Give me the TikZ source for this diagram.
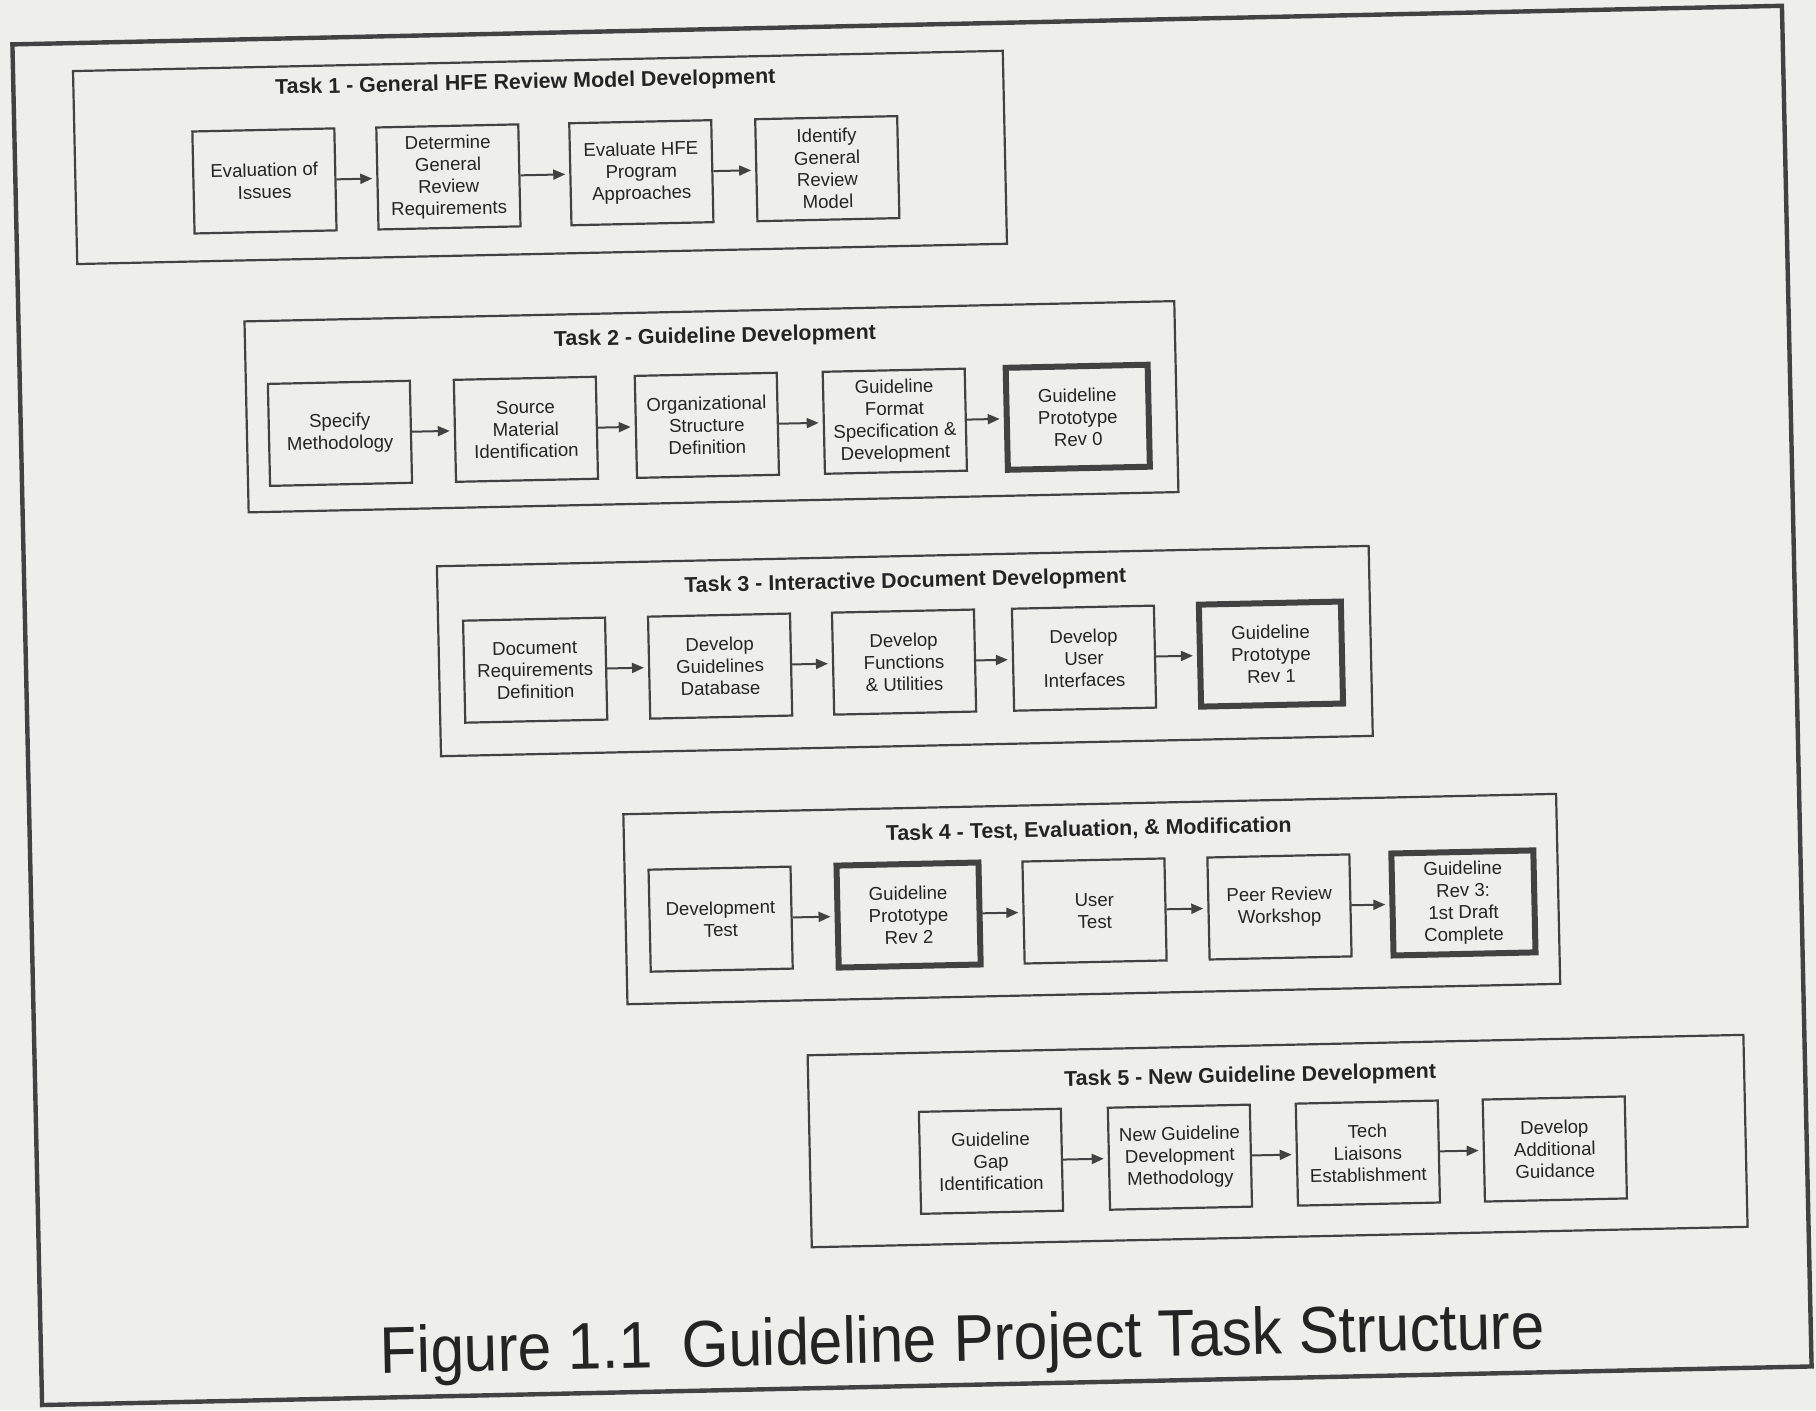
\documentclass[tikz,border=0pt]{standalone}
\usepackage{fontspec}
\setmainfont{Liberation Sans}
\newfontfamily\capfont[FakeStretch=0.915]{Liberation Sans}
\usetikzlibrary{arrows.meta}
\definecolor{paper}{RGB}{238,238,235}
\definecolor{ink}{RGB}{66,66,66}
\definecolor{textink}{RGB}{36,36,36}
\begin{document}
\begin{tikzpicture}[x=0.5pt,y=-0.5pt,
  frame/.style={draw=ink,line width=1.1pt},
  stepbox/.style={draw=ink,line width=1.1pt,minimum width=71pt,minimum height=51pt,
    inner sep=1pt,align=center,font=\fontsize{9.3}{11}\selectfont,text=textink},
  keybox/.style={stepbox,line width=3pt},
  title/.style={font=\bfseries\fontsize{10.7}{12}\selectfont,text=textink},
  arr/.style={draw=ink,line width=1pt,-{Triangle[length=6pt,width=5pt]},shorten >=2pt}]
\fill[paper] (0,0) rectangle (1816,1410);
\useasboundingbox (0,0) rectangle (1816,1410);
\begin{scope}[rotate around={1.25:(908,705)},transform shape]
  % page frame
  \draw[draw=ink,line width=2.2pt] (27,25) rectangle (1797,1386);

  % Task 1
  \draw[frame] (87,53) rectangle (1017,246);
  \node[title] (t1) at (539,75) {Task 1 - General HFE Review Model Development};
  \node[stepbox] (t1a) at (276,167) {Evaluation of\\Issues};
  \node[stepbox] (t1b) at (460,167) {Determine\\General\\Review\\Requirements};
  \node[stepbox] (t1c) at (653,167) {Evaluate HFE\\Program\\Approaches};
  \node[stepbox] (t1d) at (839,167) {Identify\\General\\Review\\Model};
  \draw[arr] (t1a) -- (t1b);
  \draw[arr] (t1b) -- (t1c);
  \draw[arr] (t1c) -- (t1d);

  % Task 2
  \draw[frame] (253,307) rectangle (1183,498);
  \node[title] (t2) at (723,333) {Task 2 - Guideline Development};
  \node[stepbox] (t2a) at (346,421) {Specify\\Methodology};
  \node[stepbox] (t2b) at (532,421) {Source\\Material\\Identification};
  \node[stepbox] (t2c) at (713,421) {Organizational\\Structure\\Definition};
  \node[stepbox] (t2d) at (901,421) {Guideline\\Format\\Specification \&\\Development};
  \node[keybox] (t2e) at (1084,421) {Guideline\\Prototype\\Rev 0};
  \draw[arr] (t2a) -- (t2b);
  \draw[arr] (t2b) -- (t2c);
  \draw[arr] (t2c) -- (t2d);
  \draw[arr] (t2d) -- (t2e);

  % Task 3
  \draw[frame] (440,556) rectangle (1372,746);
  \node[title] (t3) at (908,582) {Task 3 - Interactive Document Development};
  \node[stepbox] (t3a) at (536,662) {Document\\Requirements\\Definition};
  \node[stepbox] (t3b) at (721,662) {Develop\\Guidelines\\Database};
  \node[stepbox] (t3c) at (905,662) {Develop\\Functions\\\& Utilities};
  \node[stepbox] (t3d) at (1085,662) {Develop\\User\\Interfaces};
  \node[keybox] (t3e) at (1272,662) {Guideline\\Prototype\\Rev 1};
  \draw[arr] (t3a) -- (t3b);
  \draw[arr] (t3b) -- (t3c);
  \draw[arr] (t3c) -- (t3d);
  \draw[arr] (t3d) -- (t3e);

  % Task 4
  \draw[frame] (621,808) rectangle (1554,998);
  \node[title] (t4) at (1086,834) {Task 4 - Test, Evaluation, \& Modification};
  \node[stepbox] (t4a) at (716,915) {Development\\Test};
  \node[keybox] (t4b) at (904,915) {Guideline\\Prototype\\Rev 2};
  \node[stepbox] (t4c) at (1090,915) {User\\Test};
  \node[stepbox] (t4d) at (1275,915) {Peer Review\\Workshop};
  \node[keybox] (t4e) at (1459,915) {Guideline\\Rev 3:\\1st Draft\\Complete};
  \draw[arr] (t4a) -- (t4b);
  \draw[arr] (t4b) -- (t4c);
  \draw[arr] (t4c) -- (t4d);
  \draw[arr] (t4d) -- (t4e);

  % Task 5
  \draw[frame] (800,1053) rectangle (1736,1245);
  \node[title] (t5) at (1242,1084) {Task 5 - New Guideline Development};
  \node[stepbox] (t5a) at (981,1163) {Guideline\\Gap\\Identification};
  \node[stepbox] (t5b) at (1170,1163) {New Guideline\\Development\\Methodology};
  \node[stepbox] (t5c) at (1358,1163) {Tech\\Liaisons\\Establishment};
  \node[stepbox] (t5d) at (1545,1163) {Develop\\Additional\\Guidance};
  \draw[arr] (t5a) -- (t5b);
  \draw[arr] (t5b) -- (t5c);
  \draw[arr] (t5c) -- (t5d);

  % caption
  \node[anchor=base west,inner sep=0pt,text=textink,font=\capfont\fontsize{33}{38}\selectfont]
    (cap) at (366,1362) {Figure 1.1\hspace{0.45em}Guideline Project Task Structure};
\end{scope}
\end{tikzpicture}
\end{document}
